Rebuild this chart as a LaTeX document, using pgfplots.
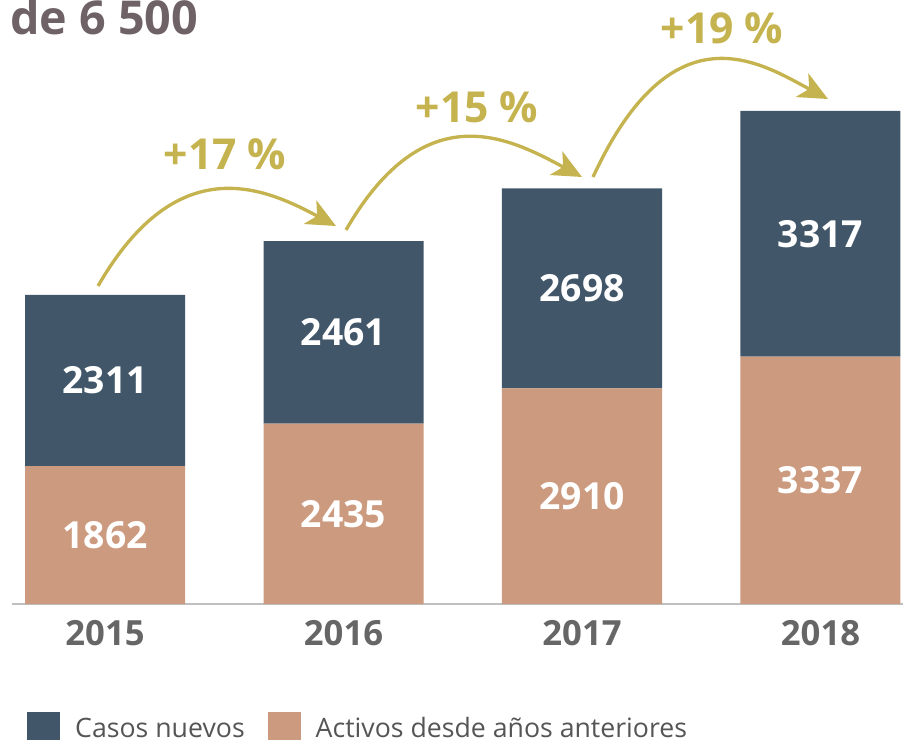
\documentclass[border=0pt]{standalone}
\usepackage{fontspec}
\setmainfont{Open Sans}
\newcommand\semib{\bfseries}
\usepackage{pgfplots}
\pgfplotsset{compat=1.18}
\usetikzlibrary{arrows.meta}

\definecolor{casos}{HTML}{415769}
\definecolor{activos}{HTML}{CC9A7E}
\definecolor{oro}{HTML}{C5B34F}
\definecolor{titulo}{HTML}{6E6267}
\definecolor{anio}{HTML}{666666}
\definecolor{leyenda}{HTML}{555555}

\tikzset{lbl/.style={font=\semib\fontsize{28pt}{28pt}\selectfont, text=white, inner sep=0pt}}

% x anio activos casos
\pgfplotstableread{
x anio activos casos
0 2015 1862 2311
1 2016 2435 2461
2 2017 2910 2698
3 2018 3337 3317
}\datos

\begin{document}
\begin{tikzpicture}
\path[use as bounding box] (0,0) rectangle (677.25pt,-554.25pt);
\begin{axis}[
    at={(9pt,-453pt)}, anchor=south west,
    scale only axis, width=668.25pt, height=453pt,
    xmin=-0.39, xmax=3.346, ymin=0, ymax=8151,
    ybar stacked, bar width=120pt,
    axis x line*=bottom, hide y axis,
    x axis line style={draw=black!25, line width=1.5pt, -},
    xtick={0,1,2,3}, xticklabels={2015,2016,2017,2018},
    xtick style={draw=none},
    xticklabel style={font=\semib\fontsize{26pt}{26pt}\selectfont, text=anio,
        anchor=base, inner sep=0pt, yshift=-30.75pt},
    clip=false,
    reverse legend,
    legend columns=2,
    legend image code/.code={\fill[#1,draw=none] (0pt,-12.4pt) rectangle (24.75pt,12.4pt);},
    legend style={at={(axis description cs:0.0168,-0.1788)}, anchor=north west,
        draw=none, fill=none, inner sep=0pt,
        font=\fontsize{20pt}{20pt}\selectfont, text=leyenda,
        nodes={inner sep=0pt},
        /tikz/every odd column/.append style={column sep=11.25pt},
        /tikz/every even column/.append style={column sep=17.25pt}},
]
\addplot[fill=activos, draw=none] table[x=x, y=activos]{\datos};
\addlegendentry{Activos desde años anteriores}
\addplot[fill=casos, draw=none] table[x=x, y=casos]{\datos};
\addlegendentry{Casos nuevos}

% centres of the segments, for the value labels
\coordinate (a0) at (axis cs:0,931);
\coordinate (c0) at (axis cs:0,3017.5);
\coordinate (a1) at (axis cs:1,1217.5);
\coordinate (c1) at (axis cs:1,3665.5);
\coordinate (a2) at (axis cs:2,1455);
\coordinate (c2) at (axis cs:2,4259);
\coordinate (a3) at (axis cs:3,1668.5);
\coordinate (c3) at (axis cs:3,4995.5);
\end{axis}

\node[lbl] at (a0) {1862};
\node[lbl] at (c0) {2311};
\node[lbl] at (a1) {2435};
\node[lbl] at (c1) {2461};
\node[lbl] at (a2) {2910};
\node[lbl] at (c2) {2698};
\node[lbl] at (a3) {3337};
\node[lbl] at (c3) {3317};

\begin{scope}[x=0.75pt, y=-0.75pt]
\node[anchor=base west, inner sep=0pt, text=titulo,
      font=\semib\fontsize{35pt}{35pt}\selectfont] at (10,34) {de 6 500};
\tikzset{pct/.style={anchor=base, inner sep=0pt, text=oro,
      font=\semib\fontsize{32pt}{32pt}\selectfont},
    arco/.style={oro, line width=2.5pt, -{Stealth[length=22pt, width=20pt, inset=6pt]}}}
\draw[arco] (98,286) .. controls (177.5,148.3) and (264.5,187.8) .. (336,226);
\draw[arco] (346,230) .. controls (425.5,92.3) and (510.5,138.8) .. (582,177);
\draw[arco] (593,177) .. controls (672.7,5.1) and (760.3,62.9) .. (828,99);
\node[pct] at (225,169) {+17 \%};
\node[pct] at (477,122) {+15 \%};
\node[pct] at (722,43) {+19 \%};
\end{scope}
\end{tikzpicture}
\end{document}
